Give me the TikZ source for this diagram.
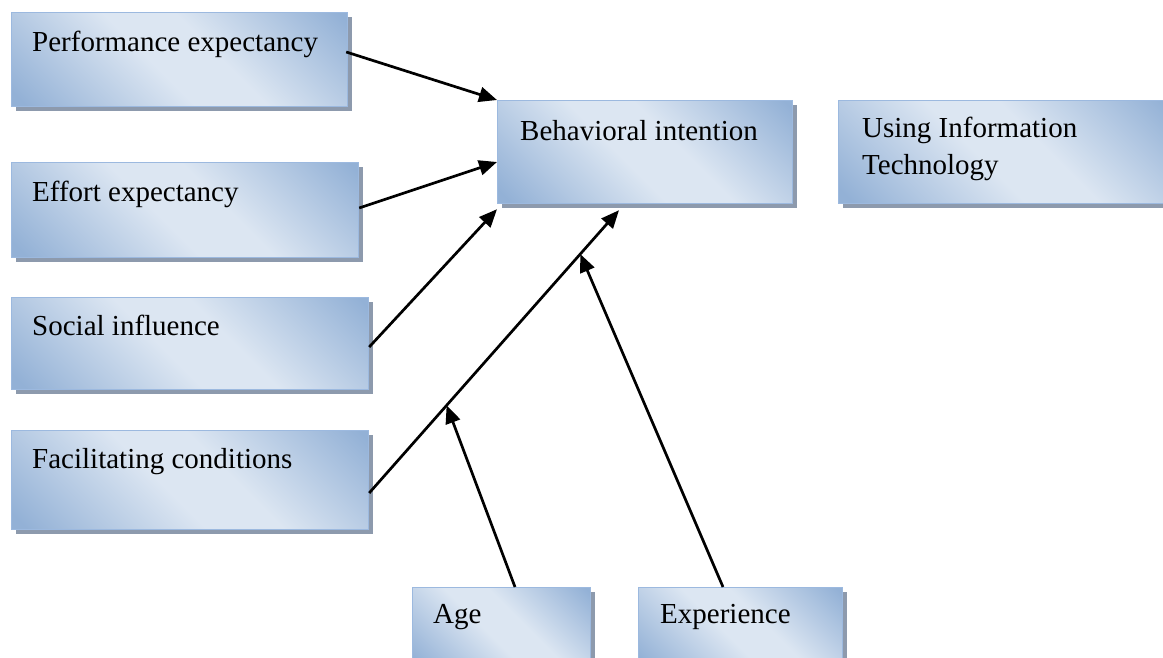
\documentclass[tikz,border=0pt]{standalone}
\usepackage{fontspec}
\setmainfont{Liberation Serif}
\usetikzlibrary{calc,arrows.meta,shadows}

\definecolor{boxdark}{HTML}{93B1D6}
\definecolor{boxlight}{HTML}{DCE6F2}
\definecolor{boxedge}{HTML}{9CB9DF}
\definecolor{boxshadow}{HTML}{8D9AAD}

% diagonal dark-light-dark fill of the boxes
\pgfdeclarehorizontalshading{boxshade}{100bp}{color(0bp)=(boxdark); color(17bp)=(boxdark); color(45bp)=(boxlight); color(57bp)=(boxlight); color(84bp)=(boxdark); color(100bp)=(boxdark)}

\tikzset{
  fbox/.style={draw=boxedge, line width=1.2pt, shading=boxshade, shading angle=45,
    anchor=north west, inner sep=0pt,
    drop shadow={shadow xshift=4pt, shadow yshift=-4pt, fill=boxshadow, opacity=1}},
  lbl/.style={anchor=base west, inner sep=0pt, align=left,
    font=\fontsize{29}{37}\selectfont},
  arr/.style={line width=2.7pt, -{Triangle[length=18pt,width=15pt]}},
}

\begin{document}
\begin{tikzpicture}[x=1pt, y=-1pt]
  \useasboundingbox (0,0) rectangle (1163,658);
  \clip (0,0) rectangle (1163,658);

  % boxes: (left, top), width x height
  \node[fbox, minimum width=336pt, minimum height=94pt]  (pe)  at (11,12)   {};
  \node[fbox, minimum width=347pt, minimum height=95pt]  (ee)  at (11,162)  {};
  \node[fbox, minimum width=357pt, minimum height=92pt]  (si)  at (11,297)  {};
  \node[fbox, minimum width=357pt, minimum height=99pt]  (fc)  at (11,430)  {};
  \node[fbox, minimum width=295pt, minimum height=103pt] (bi)  at (497,100) {};
  \node[fbox, minimum width=335pt, minimum height=103pt] (it)  at (838,100) {};
  \node[fbox, minimum width=178pt, minimum height=80pt]  (age) at (412,587) {};
  \node[fbox, minimum width=204pt, minimum height=80pt]  (exp) at (638,587) {};

  % box texts (a two-line node sits on the baseline of its last line)
  \node[lbl] (peT)  at ($(pe.north west)+(21,40)$)  {Performance expectancy};
  \node[lbl] (eeT)  at ($(ee.north west)+(21,40)$)  {Effort expectancy};
  \node[lbl] (siT)  at ($(si.north west)+(21,38)$)  {Social influence};
  \node[lbl] (fcT)  at ($(fc.north west)+(21,38)$)  {Facilitating conditions};
  \node[lbl] (biT)  at ($(bi.north west)+(23,41)$)  {Behavioral intention};
  \node[lbl] (itT)  at ($(it.north west)+(24,75)$)  {Using Information\\Technology};
  \node[lbl] (ageT) at ($(age.north west)+(21,36)$) {Age};
  \node[lbl] (expT) at ($(exp.north west)+(22,36)$) {Experience};

  % connectors
  \draw[arr] ($(pe.north east)+(-2,40)$) -- (bi.north west);
  \draw[arr] ($(ee.north east)+(0,46)$) -- ($(bi.north west)+(0,62)$);
  \draw[arr] ($(si.north east)+(0,50)$) -- ($(bi.south west)+(0,5)$);
  \coordinate (fcout) at ($(fc.north east)+(0,63)$);
  \coordinate (bitip) at ($(bi.south west)+(122,6)$);
  \draw[arr] (fcout) -- (bitip);
  \draw[arr] ($(age.north west)+(103,0)$) -- ($(fcout)!0.31!(bitip)$);
  \draw[arr] ($(exp.north west)+(85,0)$) -- ($(fcout)!0.845!(bitip)$);
\end{tikzpicture}
\end{document}
